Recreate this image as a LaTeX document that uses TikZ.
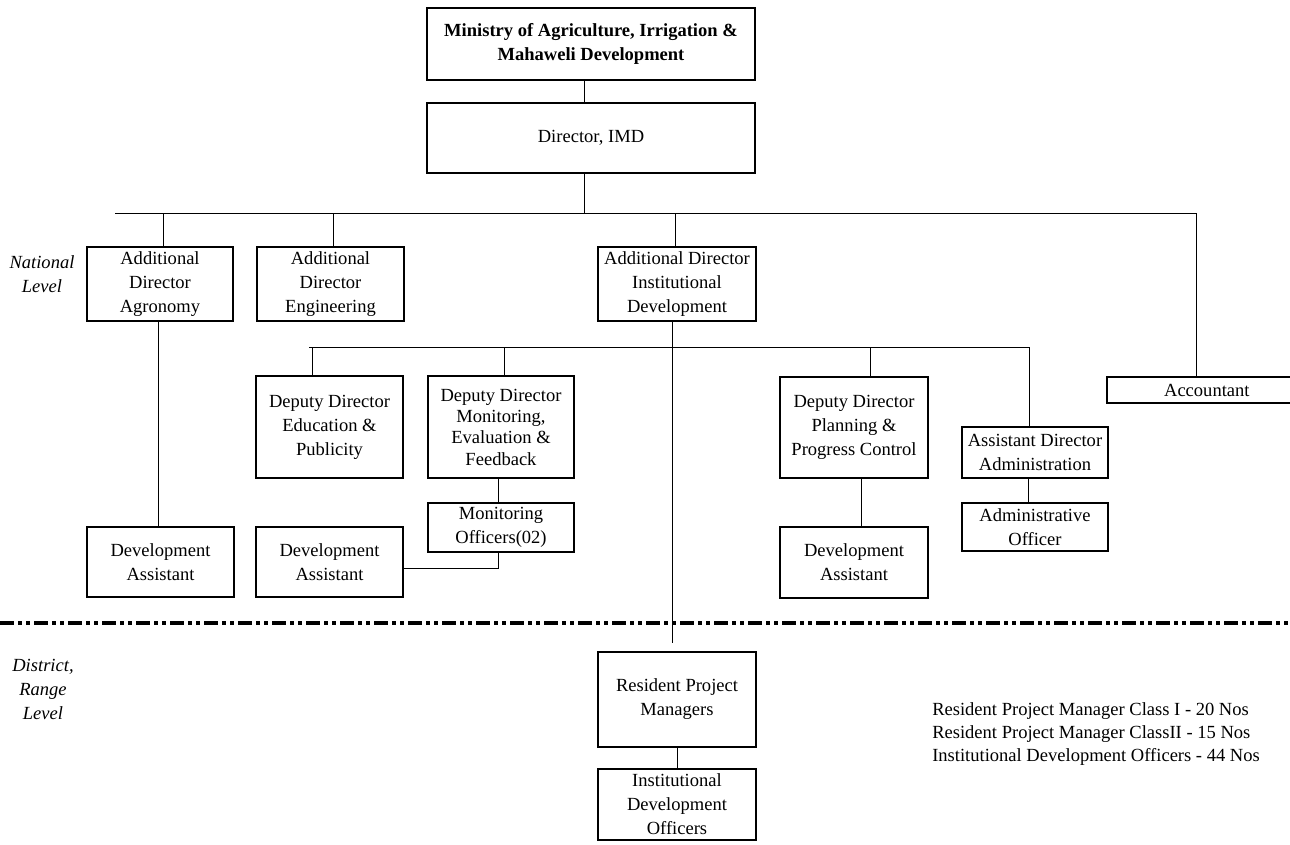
\documentclass[tikz,border=0pt]{standalone}
\usepackage{fontspec}
\setmainfont{Liberation Serif}
\newcommand\obox[7][]{\node[box,#1, minimum width={(#4-#2)*0.75pt}, minimum height={(#5-#3)*0.75pt}] (#6) at ({(#2+#4)/2},{(#3+#5)/2}) {#7};}
\begin{document}
\begin{tikzpicture}[x=0.75pt,y=-0.75pt,
  box/.style={draw, line width=1.5pt, inner sep=0pt, outer sep=0pt, align=center, font=\fontsize{13.9}{18}\selectfont},
  conn/.style={line width=0.75pt},
  lvl/.style={align=center, font=\itshape\fontsize{13.9}{18}\selectfont},
  divider/.style={line width=2.8pt, dash pattern=on 10.5pt off 3pt on 3pt off 3pt on 3pt off 3pt}]
\useasboundingbox (0,0) rectangle (1290,844);
% boxes
\obox{427}{8}{755}{80}{min}{\textbf{Ministry of Agriculture, Irrigation \&}\\\textbf{Mahaweli Development}}
\obox{427}{103}{755}{173}{dir}{Director, IMD}
\obox{87}{247}{233}{321}{agr}{Additional\\Director\\Agronomy}
\obox{257}{247}{404}{321}{eng}{Additional\\Director\\Engineering}
\obox{598}{247}{756}{321}{ins}{Additional Director\\Institutional\\Development}
\obox{256}{376}{403}{478}{edu}{Deputy Director\\Education \&\\Publicity}
\obox[font=\fontsize{13.9}{16}\selectfont]{428}{376}{574}{478}{mon}{Deputy Director\\Monitoring,\\Evaluation \&\\Feedback}
\obox{428}{503}{574}{552}{mo}{Monitoring\\Officers(02)}
\obox{87}{527}{234}{597}{da1}{Development\\Assistant}
\obox{256}{527}{403}{597}{da2}{Development\\Assistant}
\obox{780}{377}{928}{478}{pln}{Deputy Director\\Planning \&\\Progress Control}
\obox{962}{427}{1108}{478}{ada}{Assistant Director\\Administration}
\obox{962}{503}{1108}{551}{ao}{Administrative\\Officer}
\obox{780}{527}{928}{598}{da3}{Development\\Assistant}
\obox{1107}{377}{1292}{403}{acc}{\hspace*{11pt}Accountant}
\obox{598}{652}{756}{747}{rpm}{Resident Project\\Managers}
\obox{598}{769}{756}{840}{ido}{Institutional\\Development\\Officers}
% level labels and note
\node[lvl] (nat) at (42,274) {National\\Level};
\node[lvl] (dist) at (43,689) {District,\\Range\\Level};
\node[anchor=west, align=left, inner sep=0pt, font=\fontsize{13.9}{16.9}\selectfont] (notes) at (932,734)
  {Resident Project Manager Class I - 20 Nos\\Resident Project Manager ClassII - 15 Nos\\Institutional Development Officers - 44 Nos};
% connectors
\draw[conn] ([xshift=-5.25pt]min.south) -- ([xshift=-5.25pt]dir.north);
\coordinate (b1l) at (115,213);
\coordinate (b1r) at (1196,213);
\coordinate (jdir) at (584,213);
\coordinate (jagr) at (163,213);
\coordinate (jeng) at (333,213);
\coordinate (jins) at (675,213);
\draw[conn] (b1l) -- (b1r);
\draw[conn] (dir.south -| jdir) -- (jdir);
\draw[conn] (jagr) -- (agr.north -| jagr);
\draw[conn] (jeng) -- (eng.north -| jeng);
\draw[conn] (jins) -- (ins.north -| jins);
\draw[conn] (b1r) -- (acc.north -| b1r);
\coordinate (b2l) at (309,347);
\coordinate (b2r) at (1029,347);
\coordinate (jedu) at (312,347);
\coordinate (jmon) at (504,347);
\coordinate (jpln) at (870,347);
\draw[conn] (b2l) -- (b2r);
\draw[conn] (jedu) -- (edu.north -| jedu);
\draw[conn] (jmon) -- (mon.north -| jmon);
\draw[conn] (jpln) -- (pln.north -| jpln);
\draw[conn] (b2r) -- (ada.north -| b2r);
\draw[conn] ([xshift=-1.5pt]agr.south) -- ([xshift=-1.5pt]agr.south |- da1.north);
\draw[conn] ([xshift=-2.25pt]mon.south) -- ([xshift=-2.25pt]mon.south |- mo.north);
\coordinate (kmo) at (498,568);
\draw[conn] (mo.south -| kmo) -- (kmo) -- (da2.east |- kmo);
\draw[conn] ([xshift=5.25pt]pln.south) -- ([xshift=5.25pt]pln.south |- da3.north);
\draw[conn] ([xshift=-5.25pt]ada.south) -- ([xshift=-5.25pt]ada.south |- ao.north);
\coordinate (jrpm) at (672,643);
\draw[conn] (ins.south -| jrpm) -- (jrpm);
\draw[conn] (rpm.south) -- (ido.north);
% level divider
\coordinate (dl) at (0,623);
\coordinate (dr) at (1290,623);
\draw[divider] (dl) -- (dr);
\end{tikzpicture}
\end{document}
